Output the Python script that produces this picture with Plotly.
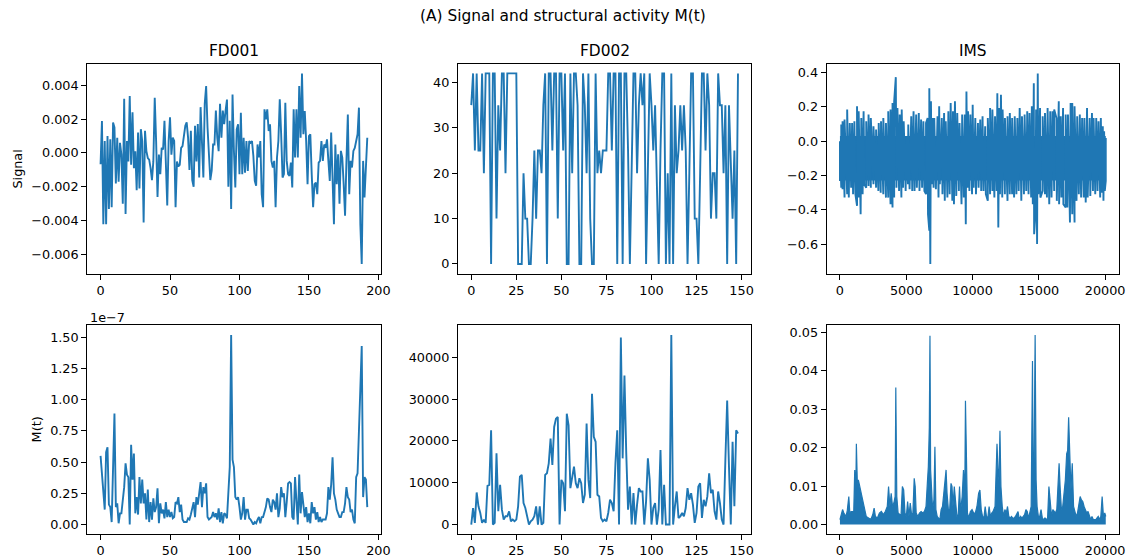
import plotly.graph_objects as go

W, H = 1135, 558
BLUE = "#1f77b4"
FONT = "DejaVu Sans"
TICK_PX = 12.8
TITLE_PX = 15.4

# ---------------- data ----------------
# FD001 sensor signal, in units of 1e-3
fd001_signal_milli = [
    -0.67, 1.88, -4.2, 0.7, -4.2, 1.0, -3.3, 0.8, -3.2, 1.8,
    1.5, -1.8, 0.9, -1.7, 0.6, -0.1, -3.0, 3.2, -3.6, 0.7,
    -0.5, 3.35, -0.7, 2.4, -0.9, 0.1, -2.2, 1.2, -2.1, 1.4,
    0.7, -4.1, 1.3, 0.1, -0.3, -0.4, -0.9, -1.6, -0.5, 3.25,
    0.7, -2.6, -0.1, -1.25, 0.3, 0.2, 1.9, -0.2, -3.1, 0.7,
    2.1, -0.1, 0.9, 0.7, -3.2, -0.5, -0.8, -0.7, 0.3, 0.4,
    1.1, 1.6, 1.8, 0.9, -1.0, 1.3, -1.6, -2.0, 1.6, -0.5,
    1.7, -1.45, 2.7, 0.3, -1.45, 2.9, 3.95, 1.5, -0.1, -1.6,
    -1.05, 0.5, 0.5, 2.5, 0.9, 0.1, 2.9, 0.9, 2.5, 1.7,
    2.5, 3.15, -2.0, 1.9, -3.3, 3.45,
    0.12, -2.04, 1.39, 1.69, -1.25, 2.37, -1.25, 0.9, -1.16, 0.7,
    -1.06, 0.7, 0.6, 0.7, -0.18, -1.65, -1.94, 0.5, -0.27, 0.7,
    -2.43, -3.2, 2.57, 1.98, 2.57, 1.29, 1.69, -0.47, -0.86, -0.47,
    -3.2, -0.27, 0.7, 3.16, 1.1, -1.45, -1.25, 2.96, -0.47, -1.25,
    -1.35, -0.57, -2.04, 2.57, -0.27, 2.57, -0.27, 3.94, 0.9, 4.69,
    1.1, 2.47, 0.7, -1.84, 1.0, 1.1, -1.25, -3.2, -1.84, -1.75,
    -2.43, -0.57, -0.47, 0.7, -0.47, 0.5, 0.3, 0.8, -0.47, -1.65,
    1.2, -2.14, -4.2, 0.5, -1.84, -0.08, -3.0, 0.12, -0.27, -1.84,
    -3.7, -0.47, 2.27, -2.43, -0.47, -0.86, 0.12, 0.3, 0.7, 1.1,
    2.67, -4.2, -6.55, -0.47, -2.63, -0.47, 0.9,
]

# FD001 structural activity M(t), in units of 1e-7
fd001_activity_e7 = [
    0.55, 0.38, 0.25, 0.12, 0.58, 0.62, 0.16, 0.14, 0.02, 0.49,
    0.89, 0.14, 0.17, 0.01, 0.09, 0.09, 0.20, 0.30, 0.49, 0.40,
    0.38, 0.00, 0.64, 0.36, 0.57, 0.09, 0.22, 0.08, 0.38, 0.17,
    0.36, 0.17, 0.25, 0.04, 0.28, 0.02, 0.18, 0.04, 0.21, 0.10,
    0.14, 0.29, 0.01, 0.17, 0.09, 0.12, 0.05, 0.18, 0.06, 0.12,
    0.06, 0.10, 0.05, 0.06, 0.18, 0.17, 0.22, 0.10, 0.16, 0.04,
    0.02, 0.02, 0.02, 0.05, 0.04, 0.08, 0.13, 0.18, 0.06, 0.22,
    0.16, 0.24, 0.34, 0.14, 0.30, 0.25, 0.33, 0.06, 0.04, 0.05,
    0.06, 0.10, 0.06, 0.09, 0.04, 0.13, 0.02, 0.10, 0.01, 0.09,
    0.08,
    0.05, 0.25, 0.46, 1.52, 0.52, 0.46,
    0.22, 0.20, 0.22, 0.14, 0.04, 0.09, 0.22, 0.04, 0.12, 0.12,
    0.05, 0.04, 0.02, 0.00, 0.02, 0.01, 0.04, 0.06, 0.01, 0.06,
    0.06, 0.10, 0.14, 0.21, 0.20, 0.14, 0.10, 0.20, 0.18, 0.12,
    0.25, 0.06, 0.13, 0.30, 0.22, 0.25, 0.06, 0.18, 0.33, 0.34,
    0.33, 0.06, 0.04, 0.38, 0.18, 0.00, 0.40, 0.09, 0.26, 0.18,
    0.06, 0.14, 0.02, 0.09, 0.01, 0.18, 0.09, 0.14, 0.04, 0.10,
    0.02, 0.06, 0.02, 0.04, 0.04, 0.04, 0.09, 0.30, 0.20, 0.32,
    0.54, 0.25, 0.20, 0.12, 0.09, 0.06, 0.06, 0.10, 0.10, 0.17,
    0.30, 0.22, 0.20, 0.10, 0.12, 0.04, 0.01, 0.38, 0.41, 0.81,
    1.16, 1.43, 0.22, 0.38, 0.36, 0.14,
]

# FD002 sensor signal (discrete operating levels)
fd002_signal = [
    35, 42, 25, 42, 25, 25, 42, 20, 42, 42,
    42, 0, 42, 42, 10, 35, 25, 42, 42, 20,
    42, 42, 42, 42, 42, 42, 0, 0, 0, 20,
    10, 10, 0, 0, 10, 25, 10, 25, 25, 20,
    35, 42, 0, 42, 42, 25, 42, 42, 10, 42,
    42, 25, 42, 0, 0, 42, 20, 42, 42, 35,
    0, 0, 42, 35, 20, 42, 10, 0, 0,
    42, 20, 25, 20, 25, 25, 25, 42, 42, 25,
    42, 42, 0, 42, 42, 0, 42, 42, 25, 0,
    20, 42, 42, 20, 35, 42, 35, 42, 0, 25,
    42, 35, 25, 35, 20, 0, 25, 42, 42, 0,
    20, 0, 42, 0, 35, 20, 25, 35, 25, 35,
    25, 0, 20, 42, 42, 10, 10, 0, 20, 42,
    42, 25, 42, 35, 10, 20, 20, 10, 42, 35,
    35, 20, 35, 0, 35, 20, 10, 25, 0, 42,
]

# FD002 structural activity M(t)
fd002_activity = [
    0, 3960, 400, 7680, 4360, 2770, 400, 1190, 400, 9270,
    9500, 22570, 0, 400, 17030, 3170, 9500, 3560, 1190, 1980,
    1980, 3170, 790, 1190, 790, 1190, 4360, 11480, 11880, 5150,
    3960, 1980, 0, 790, 1190, 1980, 4360, 0, 4360, 0,
    400, 11880, 12280, 14650, 20590, 14260, 23360, 25340, 25740, 0,
    10690, 9900, 3170, 26530, 23760, 8710, 11480, 13860, 9900, 8710,
    11090, 9900, 5150, 7130, 24150, 10690, 6340, 31280, 20990, 19800,
    7130, 6730, 1580, 790, 1190, 790, 2770, 5940, 5150, 3170,
    14650, 22570, 0, 44750, 15840, 35640, 17030, 3560, 9110, 0,
    7520, 0, 4750, 8710, 7920, 7920, 0, 5540, 15840, 10690,
    0, 3960, 5150, 0, 3560, 17820, 0, 9500, 0, 0,
    0, 45380, 0, 4360, 7920, 1580, 1980, 2770, 1980, 3960,
    8710, 5940, 7520, 4750, 400, 2770, 9110, 9900, 1580, 5940,
    4360, 6730, 12280, 7520, 8320, 3170, 1190, 7920, 5150, 1190,
    0, 15440, 29700, 13860, 0, 19800, 4360, 22570, 21780,
]

# IMS vibration signal: local maxima / minima of the raw trace vs. sample index
ims_signal_upper_t = [
    0, 99, 198, 347, 545, 743, 917, 1090, 1289, 1412,
    1611, 1784, 1982, 2156, 2329, 2528, 2726, 2924, 3098, 3271,
    3469, 3643, 3816, 3965, 4089, 4213, 4337, 4510, 4659, 4807,
    5006, 5154, 5377, 5551, 5749, 5947, 6121, 6294, 6492, 6616,
    6740, 6864, 6988, 7112, 7360, 7484, 7682, 7855, 7979, 8177,
    8351, 8524, 8673, 8846, 9020, 9218, 9416, 9540, 9664, 9838,
    10011, 10209, 10408, 10581, 10755, 10953, 11151, 11324, 11498, 11696,
    11870, 12018, 12142, 12266, 12442, 12638, 12811, 12985, 13183, 13381,
    13555, 13728, 13926, 14125, 14298, 14472, 14620, 14794, 14918, 15091,
    15289, 15463, 15661, 15859, 16033, 16157, 16330, 16503, 16652, 16826,
    17024, 17197, 17396, 17519, 17693, 17892, 18089, 18263, 18436, 18635,
    18833, 19006, 19130, 19328, 19502, 19675, 19824, 19923, 20047,
]
ims_signal_upper = [
    0.000, 0.097, 0.116, 0.126, 0.184, 0.106, 0.106, 0.116, 0.203, 0.174,
    0.135, 0.174, 0.116, 0.155, 0.135, 0.087, 0.068, 0.106, 0.116, 0.135,
    0.106, 0.174, 0.184, 0.222, 0.232, 0.373, 0.193, 0.155, 0.184, 0.116,
    0.029, 0.097, 0.145, 0.174, 0.155, 0.164, 0.126, 0.116, 0.106, 0.135,
    0.309, 0.232, 0.135, 0.135, 0.145, 0.203, 0.135, 0.164, 0.116, 0.174,
    0.222, 0.174, 0.232, 0.164, 0.106, 0.155, 0.155, 0.290, 0.174, 0.155,
    0.213, 0.135, 0.106, 0.126, 0.145, 0.087, 0.135, 0.193, 0.184, 0.145,
    0.280, 0.193, 0.271, 0.184, 0.135, 0.145, 0.164, 0.135, 0.145, 0.135,
    0.193, 0.145, 0.155, 0.174, 0.164, 0.203, 0.338, 0.184, 0.395, 0.193,
    0.145, 0.164, 0.193, 0.174, 0.174, 0.184, 0.135, 0.232, 0.145, 0.193,
    0.155, 0.155, 0.222, 0.222, 0.203, 0.145, 0.155, 0.135, 0.135, 0.193,
    0.135, 0.164, 0.135, 0.135, 0.116, 0.135, 0.087, 0.058, 0.019,
]
ims_signal_lower_t = [
    0, 99, 198, 347, 545, 669, 843, 991, 1165, 1289,
    1412, 1561, 1710, 1834, 1982, 2156, 2329, 2528, 2726, 2899,
    3073, 3271, 3469, 3643, 3816, 3965, 4089, 4262, 4460, 4634,
    4758, 4956, 5129, 5253, 5452, 5625, 5799, 5997, 6195, 6368,
    6492, 6641, 6740, 6815, 6914, 7062, 7236, 7434, 7533, 7732,
    7905, 8103, 8277, 8475, 8599, 8772, 8970, 9169, 9342, 9491,
    9615, 9763, 9962, 10085, 10259, 10457, 10655, 10829, 11003, 11151,
    11324, 11498, 11647, 11820, 11944, 12068, 12241, 12440, 12638, 12811,
    12985, 13134, 13307, 13481, 13679, 13877, 14050, 14224, 14422, 14546,
    14645, 14744, 14868, 14967, 15116, 15289, 15463, 15611, 15785, 15958,
    16157, 16355, 16528, 16702, 16850, 17024, 17148, 17346, 17519, 17693,
    17842, 18015, 18189, 18387, 18535, 18684, 18882, 19081, 19254, 19428,
    19626, 19774, 19873, 19973, 20047,
]
ims_signal_lower = [
    -0.232, -0.271, -0.280, -0.329, -0.309, -0.329, -0.271, -0.309, -0.309, -0.377,
    -0.329, -0.426, -0.309, -0.251, -0.271, -0.261, -0.271, -0.251, -0.271, -0.290,
    -0.300, -0.309, -0.329, -0.329, -0.368, -0.387, -0.329, -0.271, -0.290, -0.329,
    -0.271, -0.290, -0.251, -0.280, -0.290, -0.290, -0.271, -0.290, -0.271, -0.290,
    -0.309, -0.426, -0.522, -0.716, -0.251, -0.271, -0.280, -0.329, -0.251, -0.309,
    -0.348, -0.329, -0.309, -0.348, -0.368, -0.319, -0.290, -0.368, -0.329, -0.484,
    -0.271, -0.290, -0.309, -0.271, -0.309, -0.271, -0.290, -0.290, -0.309, -0.348,
    -0.309, -0.290, -0.329, -0.290, -0.503, -0.309, -0.329, -0.309, -0.348, -0.309,
    -0.309, -0.329, -0.309, -0.290, -0.348, -0.309, -0.290, -0.309, -0.329, -0.368,
    -0.542, -0.426, -0.600, -0.309, -0.329, -0.290, -0.309, -0.329, -0.368, -0.329,
    -0.290, -0.348, -0.368, -0.329, -0.368, -0.387, -0.387, -0.474, -0.426, -0.474,
    -0.348, -0.309, -0.329, -0.329, -0.358, -0.329, -0.319, -0.290, -0.309, -0.290,
    -0.329, -0.300, -0.348, -0.290, -0.232,
]
# dense core of the IMS trace (range covered by nearly every cycle)
ims_signal_core = [0.03, -0.23]

# IMS structural activity M(t): local maxima vs. sample index (floor is zero)
ims_activity_t = [
    0, 99, 198, 297, 446, 545, 669, 743, 843, 942,
    1041, 1115, 1189, 1239, 1313, 1388, 1487, 1586, 1685, 1784,
    1883, 1982, 2156, 2329, 2478, 2577, 2676, 2825, 2974, 3122,
    3271, 3420, 3569, 3667, 3766, 3866, 3965, 4064, 4163, 4213,
    4287, 4386, 4510, 4609, 4708, 4807, 4906, 5006, 5105, 5204,
    5303, 5402, 5501, 5601, 5675, 5749, 5873, 5997, 6121, 6245,
    6368, 6492, 6591, 6666, 6740, 6790, 6839, 6889, 6988, 7087,
    7162, 7236, 7335, 7434, 7533, 7633, 7732, 7831, 7930, 8004,
    8078, 8177, 8277, 8376, 8450, 8524, 8624, 8723, 8822, 8921,
    9020, 9094, 9218, 9317, 9416, 9466, 9540, 9614, 9714, 9838,
    9962, 10085, 10209, 10333, 10457, 10556, 10655, 10755, 10854, 10953,
    11052, 11151, 11250, 11350, 11449, 11548, 11696, 11795, 11845, 11919,
    11994, 12068, 12142, 12241, 12340, 12440, 12539, 12638, 12737, 12836,
    12935, 13034, 13133, 13233, 13332, 13431, 13530, 13629, 13728, 13827,
    13926, 14026, 14125, 14224, 14323, 14422, 14521, 14571, 14645, 14720,
    14794, 14868, 14967, 15066, 15165, 15264, 15364, 15463, 15562, 15661,
    15760, 15859, 15958, 16058, 16157, 16256, 16355, 16454, 16528, 16603,
    16702, 16801, 16900, 16999, 17098, 17173, 17247, 17321, 17421, 17520,
    17619, 17718, 17817, 17916, 18015, 18115, 18214, 18313, 18412, 18511,
    18611, 18710, 18809, 18908, 19007, 19106, 19205, 19304, 19378, 19477,
    19576, 19675, 19774, 19873, 19973, 20047,
]
ims_activity = [
    0.0013, 0.0030, 0.0039, 0.0030, 0.0021, 0.0034, 0.0073, 0.0030, 0.0034, 0.0034,
    0.0034, 0.0142, 0.0064, 0.0210, 0.0107, 0.0116, 0.0099, 0.0081, 0.0069, 0.0056,
    0.0039, 0.0021, 0.0017, 0.0013, 0.0026, 0.0043, 0.0021, 0.0017, 0.0030, 0.0034,
    0.0026, 0.0034, 0.0047, 0.0099, 0.0047, 0.0081, 0.0047, 0.0056, 0.0073, 0.0356,
    0.0073, 0.0030, 0.0026, 0.0026, 0.0099, 0.0090, 0.0030, 0.0021, 0.0060, 0.0021,
    0.0056, 0.0026, 0.0030, 0.0120, 0.0099, 0.0030, 0.0021, 0.0030, 0.0034, 0.0030,
    0.0034, 0.0047, 0.0107, 0.0150, 0.0253, 0.0491, 0.0142, 0.0090, 0.0039, 0.0064,
    0.0202, 0.0039, 0.0021, 0.0017, 0.0013, 0.0039, 0.0047, 0.0081, 0.0116, 0.0142,
    0.0081, 0.0039, 0.0039, 0.0107, 0.0099, 0.0047, 0.0099, 0.0047, 0.0021, 0.0026,
    0.0099, 0.0034, 0.0073, 0.0142, 0.0081, 0.0322, 0.0099, 0.0030, 0.0017, 0.0034,
    0.0039, 0.0030, 0.0030, 0.0047, 0.0081, 0.0090, 0.0039, 0.0021, 0.0017, 0.0047,
    0.0021, 0.0017, 0.0047, 0.0021, 0.0030, 0.0034, 0.0047, 0.0184, 0.0210, 0.0142,
    0.0116, 0.0244, 0.0099, 0.0047, 0.0021, 0.0039, 0.0030, 0.0047, 0.0021, 0.0017,
    0.0021, 0.0017, 0.0017, 0.0021, 0.0030, 0.0034, 0.0013, 0.0021, 0.0017, 0.0021,
    0.0026, 0.0039, 0.0034, 0.0017, 0.0030, 0.0047, 0.0425, 0.0073, 0.0184, 0.0493,
    0.0116, 0.0047, 0.0021, 0.0021, 0.0039, 0.0017, 0.0013, 0.0017, 0.0013, 0.0017,
    0.0099, 0.0047, 0.0021, 0.0039, 0.0034, 0.0030, 0.0039, 0.0099, 0.0159, 0.0099,
    0.0039, 0.0047, 0.0081, 0.0116, 0.0184, 0.0193, 0.0279, 0.0189, 0.0090, 0.0159,
    0.0047, 0.0034, 0.0021, 0.0030, 0.0047, 0.0073, 0.0064, 0.0060, 0.0047, 0.0039,
    0.0030, 0.0034, 0.0021, 0.0013, 0.0021, 0.0013, 0.0013, 0.0013, 0.0017, 0.0021,
    0.0013, 0.0021, 0.0073, 0.0021, 0.0030, 0.0021,
]
ims_activity_floor = 0.0

panel_titles = ["FD001", "FD002", "IMS"]
suptitle = "(A) Signal and structural activity M(t)"

# ---------------- layout geometry (pixels) ----------------
COLS = [(88, 384), (462, 758), (834, 1129)]
ROWS = [(63, 273), (325, 534)]


def px_x(p):
    return p / W


def px_y(p):
    return 1 - p / H


def padded(values):
    lo, hi = min(values), max(values)
    d = hi - lo
    return [lo - 0.05 * d, hi + 0.05 * d]


def axis_style():
    return dict(
        showline=True, mirror=True, linecolor="black", linewidth=1,
        ticks="outside", ticklen=5, tickwidth=1, tickcolor="black",
        showgrid=False, zeroline=False, fixedrange=True,
        tickfont=dict(family=FONT, size=TICK_PX, color="black"),
    )


def oscillation(t_hi, v_hi, t_lo, v_lo):
    """Merge peak and trough samples in time order into one dense trace."""
    pts = sorted([(t, v) for t, v in zip(t_hi, v_hi)] +
                 [(t, v) for t, v in zip(t_lo, v_lo)])
    return [p[0] for p in pts], [p[1] for p in pts]


fig = go.Figure()
layout = {}

line = dict(color=BLUE, width=1.9)

fd001_idx = list(range(len(fd001_signal_milli)))
fd001_sig = [v * 1e-3 for v in fd001_signal_milli]
fd002_idx = list(range(len(fd002_signal)))
fd001_m_idx = list(range(len(fd001_activity_e7)))
fd002_m_idx = list(range(len(fd002_activity)))

ims_x, ims_y = oscillation(ims_signal_upper_t, ims_signal_upper,
                           ims_signal_lower_t, ims_signal_lower)
ims_t0, ims_t1 = ims_x[0], ims_x[-1]
core_hi, core_lo = ims_signal_core

panels = [
    (0, 0, [go.Scatter(x=fd001_idx, y=fd001_sig, mode="lines", line=line)],
     fd001_idx, fd001_sig, 50, dict(tick0=0, dtick=0.002), ".3f"),
    (0, 1, [go.Scatter(x=fd002_idx, y=fd002_signal, mode="lines", line=line)],
     fd002_idx, fd002_signal, 25, dict(tick0=0, dtick=10), "d"),
    (0, 2, [go.Scatter(x=[ims_t0, ims_t1, ims_t1, ims_t0],
                       y=[core_hi, core_hi, core_lo, core_lo],
                       mode="lines", fill="toself", fillcolor=BLUE,
                       line=dict(color=BLUE, width=0)),
            go.Scatter(x=ims_x, y=ims_y, mode="lines",
                       line=dict(color=BLUE, width=1.9))],
     ims_x, ims_y, 5000, dict(tick0=0, dtick=0.2), ".1f"),
    (1, 0, [go.Scatter(x=fd001_m_idx, y=fd001_activity_e7, mode="lines", line=line)],
     fd001_m_idx, fd001_activity_e7, 50, dict(tick0=0, dtick=0.25), ".2f"),
    (1, 1, [go.Scatter(x=fd002_m_idx, y=fd002_activity, mode="lines", line=line)],
     fd002_m_idx, fd002_activity, 25, dict(tick0=0, dtick=10000), "d"),
    (1, 2, [go.Scatter(x=ims_activity_t, y=ims_activity, mode="lines",
                       fill="tozeroy", fillcolor=BLUE,
                       line=dict(color=BLUE, width=1.2))],
     ims_activity_t, ims_activity + [ims_activity_floor], 5000,
     dict(tick0=0, dtick=0.01), ".2f"),
]

for k, (r, c, traces, xs, ys, xdt, yt, yfmt) in enumerate(panels, start=1):
    sfx = "" if k == 1 else str(k)
    for tr in traces:
        tr.update(xaxis="x" + sfx, yaxis="y" + sfx, showlegend=False, hoverinfo="skip")
        fig.add_trace(tr)
    x0, x1 = COLS[c]
    y0, y1 = ROWS[r]
    xa = axis_style()
    xa.update(domain=[px_x(x0), px_x(x1)], anchor="y" + sfx, range=padded(xs),
              tickmode="linear", tick0=0, dtick=xdt, tickformat="d")
    ya = axis_style()
    ya.update(domain=[px_y(y1), px_y(y0)], anchor="x" + sfx, range=padded(ys),
              tickmode="linear", tickformat=yfmt, **yt)
    layout["xaxis" + sfx] = xa
    layout["yaxis" + sfx] = ya

annotations = []
for c, name in enumerate(panel_titles):
    x0, x1 = COLS[c]
    annotations.append(dict(
        text=name, x=px_x((x0 + x1) / 2), y=px_y(50), xref="paper", yref="paper",
        xanchor="center", yanchor="middle", showarrow=False,
        font=dict(family=FONT, size=TITLE_PX, color="black")))

annotations.append(dict(
    text=suptitle, x=0.5, y=px_y(15.5), xref="paper", yref="paper",
    xanchor="center", yanchor="middle", showarrow=False,
    font=dict(family=FONT, size=TITLE_PX, color="black")))

annotations.append(dict(
    text="Signal", x=px_x(18), y=px_y((ROWS[0][0] + ROWS[0][1]) / 2),
    xref="paper", yref="paper", xanchor="center", yanchor="middle",
    textangle=-90, showarrow=False,
    font=dict(family=FONT, size=TICK_PX, color="black")))
annotations.append(dict(
    text="M(t)", x=px_x(37), y=px_y((ROWS[1][0] + ROWS[1][1]) / 2),
    xref="paper", yref="paper", xanchor="center", yanchor="middle",
    textangle=-90, showarrow=False,
    font=dict(family=FONT, size=TICK_PX, color="black")))
annotations.append(dict(
    text="1e\u22127", x=px_x(COLS[0][0] + 1), y=px_y(ROWS[1][0] + 2),
    xref="paper", yref="paper", xanchor="left", yanchor="bottom",
    showarrow=False, font=dict(family=FONT, size=TICK_PX, color="black")))

fig.update_layout(
    width=W, height=H,
    margin=dict(l=0, r=0, t=0, b=0),
    paper_bgcolor="white", plot_bgcolor="white",
    showlegend=False, annotations=annotations,
    **layout,
)

fig.write_html("out.html", config={"displayModeBar": False})
